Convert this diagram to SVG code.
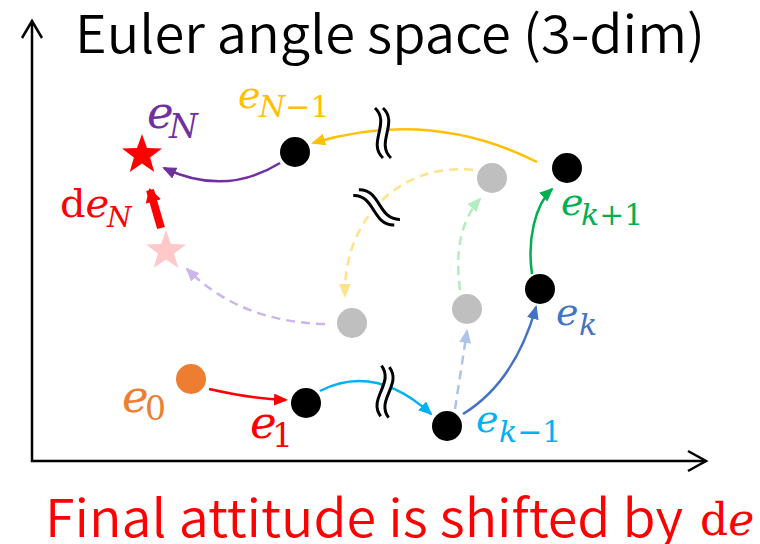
<svg xmlns="http://www.w3.org/2000/svg" width="760" height="544" viewBox="0 0 760 544">
<style>
.ttl{font-family:"Noto Sans CJK JP","Noto Sans",sans-serif;font-size:52px;font-weight:350}
.L{font-family:"DejaVu Serif",serif;font-style:italic;font-size:45px}
.Ls{font-family:"DejaVu Serif",serif;font-style:italic;font-size:33px}
.m{font-family:"DejaVu Serif",serif;font-style:italic;font-size:38px}
.s{font-family:"DejaVu Serif",serif;font-style:italic;font-size:30px}
.up{font-style:normal}
.ln{fill:none;stroke-width:2.5}
.dash{fill:none;stroke-width:2.5;stroke-dasharray:9 6}
.sq{fill:none;stroke:#000;stroke-width:3}
.dot{stroke:none}
</style>
<defs>
<marker id="aRed" viewBox="0 0 14 12" refX="12" refY="6" markerWidth="14" markerHeight="12" orient="auto" markerUnits="userSpaceOnUse"><path d="M0,0 L14,6 L0,12 Z" fill="#FF0000"/></marker>
<marker id="aCyan" viewBox="0 0 14 12" refX="12" refY="6" markerWidth="14" markerHeight="12" orient="auto" markerUnits="userSpaceOnUse"><path d="M0,0 L14,6 L0,12 Z" fill="#00B0F0"/></marker>
<marker id="aBlue" viewBox="0 0 14 12" refX="12" refY="6" markerWidth="14" markerHeight="12" orient="auto" markerUnits="userSpaceOnUse"><path d="M0,0 L14,6 L0,12 Z" fill="#4472C4"/></marker>
<marker id="aGreen" viewBox="0 0 14 12" refX="12" refY="6" markerWidth="14" markerHeight="12" orient="auto" markerUnits="userSpaceOnUse"><path d="M0,0 L14,6 L0,12 Z" fill="#00B050"/></marker>
<marker id="aGold" viewBox="0 0 14 12" refX="12" refY="6" markerWidth="14" markerHeight="12" orient="auto" markerUnits="userSpaceOnUse"><path d="M0,0 L14,6 L0,12 Z" fill="#FFC000"/></marker>
<marker id="aPurple" viewBox="0 0 14 12" refX="12" refY="6" markerWidth="14" markerHeight="12" orient="auto" markerUnits="userSpaceOnUse"><path d="M0,0 L14,6 L0,12 Z" fill="#7030A0"/></marker>
<marker id="aLBlue" viewBox="0 0 14 12" refX="12" refY="6" markerWidth="14" markerHeight="12" orient="auto" markerUnits="userSpaceOnUse"><path d="M0,0 L14,6 L0,12 Z" fill="#ADC3EA"/></marker>
<marker id="aLGreen" viewBox="0 0 14 12" refX="12" refY="6" markerWidth="14" markerHeight="12" orient="auto" markerUnits="userSpaceOnUse"><path d="M0,0 L14,6 L0,12 Z" fill="#B2EDBE"/></marker>
<marker id="aLGold" viewBox="0 0 14 12" refX="12" refY="6" markerWidth="14" markerHeight="12" orient="auto" markerUnits="userSpaceOnUse"><path d="M0,0 L14,6 L0,12 Z" fill="#FFE28A"/></marker>
<marker id="aLPurple" viewBox="0 0 14 12" refX="12" refY="6" markerWidth="14" markerHeight="12" orient="auto" markerUnits="userSpaceOnUse"><path d="M0,0 L14,6 L0,12 Z" fill="#CDB6EA"/></marker>
<marker id="aBig" viewBox="0 0 14 16" refX="12" refY="8" markerWidth="14" markerHeight="16" orient="auto" markerUnits="userSpaceOnUse"><path d="M0,0 L14,8 L0,16 Z" fill="#FF0000"/></marker>
<polygon id="star" points="0,-21 5,-6.9 20,-6.5 8.1,2.6 12.3,17 0,8.5 -12.3,17 -8.1,2.6 -20,-6.5 -5,-6.9"/>
<g id="squig">
<path d="M-10,-25 C6,-10 -18,10 -2,25 L6,25 C-10,10 14,-10 -2,-25 Z" fill="#fff"/>
<path class="sq" d="M-10,-25 C6,-10 -18,10 -2,25"/>
<path class="sq" d="M-2,-25 C14,-10 -10,10 6,25"/>
</g>
</defs>
<rect width="760" height="544" fill="#fff"/>
<g id="axes" fill="none" stroke="#000" stroke-width="2.5">
<path d="M32,21 L32,461 L706,461"/>
<path d="M22,38 L32,21 L42,38"/>
<path d="M688,451 L706,461 L688,471"/>
</g>
<text class="ttl" x="75" y="53" textLength="630" lengthAdjust="spacingAndGlyphs">Euler angle space (3-dim)</text>
<g id="connectors">
<path class="ln" stroke="#FF0000" d="M209,389 C235,395 262,399 286,400" marker-end="url(#aRed)"/>
<path class="ln" stroke="#00B0F0" d="M320,391 Q375,363 431,414" marker-end="url(#aCyan)"/>
<path class="ln" stroke="#4472C4" d="M463,414 Q515,382 536,307" marker-end="url(#aBlue)"/>
<path class="dash" stroke="#ADC3EA" d="M455,409 L467,331" marker-end="url(#aLBlue)"/>
<path class="ln" stroke="#00B050" d="M532,274 C527,240 535,205 552,189" marker-end="url(#aGreen)"/>
<path class="dash" stroke="#B2EDBE" d="M460,290 Q452,230 480,199" marker-end="url(#aLGreen)"/>
<path class="ln" stroke="#FFC000" d="M537,162 Q430,108 313,143" marker-end="url(#aGold)"/>
<path class="dash" stroke="#FFE28A" d="M473,170 C405,162 343,215 345,296" marker-end="url(#aLGold)"/>
<path class="dash" stroke="#CDB6EA" d="M325,324 Q240,322 187,269" marker-end="url(#aLPurple)"/>
<path class="ln" stroke="#7030A0" d="M280,163 Q225,197 164,168" marker-end="url(#aPurple)"/>
<path fill="none" stroke="#FF0000" stroke-width="8" d="M161,228 L150,190" marker-end="url(#aBig)"/>
<use href="#squig" transform="translate(385,133)"/>
<use href="#squig" transform="translate(387,392) rotate(10)"/>
<use href="#squig" transform="translate(378,206) rotate(-45)"/>
</g>
<g id="g1"><circle class="dot" cx="492" cy="178" r="15" fill="#BFBFBF"/></g>
<g id="g2"><circle class="dot" cx="467" cy="309" r="15" fill="#BFBFBF"/></g>
<g id="g3"><circle class="dot" cx="352" cy="323" r="15" fill="#BFBFBF"/></g>
<g id="e0"><circle class="dot" cx="191" cy="379" r="15" fill="#ED7D31"/>
<text fill="#ED7D31"><tspan class="L" x="122" y="412">e</tspan><tspan class="Ls up" x="145" y="420">0</tspan></text></g>
<g id="e1"><circle class="dot" cx="306" cy="403" r="15" fill="#000"/>
<text fill="#FF0000"><tspan class="L" x="250" y="438">e</tspan><tspan class="Ls up" x="272" y="447">1</tspan></text></g>
<g id="ekm1"><circle class="dot" cx="447" cy="426" r="15" fill="#000"/>
<text fill="#00B0F0"><tspan class="m" x="476" y="432">e</tspan><tspan class="s" x="499" y="442">k</tspan><tspan class="s up">−1</tspan></text></g>
<g id="ek"><circle class="dot" cx="540" cy="289" r="15" fill="#000"/>
<text fill="#4472C4"><tspan class="m" x="556" y="325">e</tspan><tspan class="s" x="579" y="335">k</tspan></text></g>
<g id="ekp1"><circle class="dot" cx="567" cy="168" r="15" fill="#000"/>
<text fill="#00B050"><tspan class="m" x="561" y="215">e</tspan><tspan class="s" x="581" y="225">k</tspan><tspan class="s up">+1</tspan></text></g>
<g id="eNm1"><circle class="dot" cx="295" cy="152" r="15" fill="#000"/>
<text fill="#FFC000"><tspan class="m" x="238" y="108">e</tspan><tspan class="s" x="259" y="117">N</tspan><tspan class="s up">−1</tspan></text></g>
<g id="eN"><use href="#star" transform="translate(142,155)" fill="#FF0000"/>
<text fill="#7030A0"><tspan class="L" x="147" y="128">e</tspan><tspan class="Ls" x="169" y="138">N</tspan></text></g>
<g id="eN0"><use href="#star" transform="translate(166,251)" fill="#FFC9C9"/></g>
<g id="deN"><text fill="#FF0000"><tspan class="m up" x="60" y="217" style="font-size:40px">d</tspan><tspan class="m" style="font-size:40px">e</tspan><tspan class="s" x="107" y="227" style="font-size:28px">N</tspan></text></g>
<text fill="#FF0000"><tspan class="ttl" x="45" y="537" textLength="638" lengthAdjust="spacingAndGlyphs">Final attitude is shifted by</tspan><tspan class="m up" x="700" y="535" style="font-size:44px">d</tspan><tspan class="m" style="font-size:44px">e</tspan></text>
</svg>
